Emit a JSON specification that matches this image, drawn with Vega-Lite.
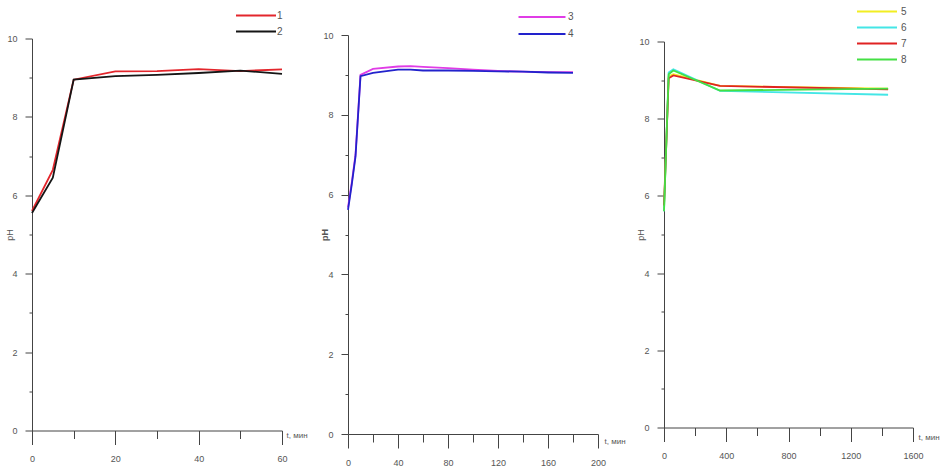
{
  "$schema": "https://vega.github.io/schema/vega-lite/v6.json",
  "background": "white",
  "padding": {"left": 5, "top": 5, "right": 0, "bottom": 5},
  "bounds": "flush",
  "spacing": 66,
  "center": true,
  "config": {
    "view": {"stroke": null},
    "font": "Liberation Sans",
    "axis": {"labelFont": "Liberation Sans", "labelFontSize": 9, "labelColor": "#555", "titleFont": "Liberation Sans", "titleFontSize": 9, "titleFontWeight": "normal", "titleColor": "#555", "domainColor": "#444", "tickColor": "#444", "grid": false, "labelOverlap": false, "labelFlush": false},
    "legend": {"orient": "none", "title": null, "symbolType": "M-4,0H4", "symbolStrokeWidth": 2, "symbolSize": 100, "labelFontSize": 10, "labelColor": "#555", "labelFont": "Liberation Sans", "rowPadding": 5, "labelOffset": 17}
  },
  "datasets": {
    "p1": [
      {"s": "1", "t": 0, "pH": 5.6}, {"s": "1", "t": 5, "pH": 6.65}, {"s": "1", "t": 10, "pH": 8.95}, {"s": "1", "t": 20, "pH": 9.16}, {"s": "1", "t": 30, "pH": 9.17}, {"s": "1", "t": 40, "pH": 9.22}, {"s": "1", "t": 50, "pH": 9.17}, {"s": "1", "t": 60, "pH": 9.21},
      {"s": "2", "t": 0, "pH": 5.55}, {"s": "2", "t": 5, "pH": 6.45}, {"s": "2", "t": 10, "pH": 8.95}, {"s": "2", "t": 20, "pH": 9.04}, {"s": "2", "t": 30, "pH": 9.07}, {"s": "2", "t": 40, "pH": 9.12}, {"s": "2", "t": 50, "pH": 9.18}, {"s": "2", "t": 60, "pH": 9.1}
    ],
    "p2": [
      {"s": "3", "t": 0, "pH": 5.68}, {"s": "3", "t": 3, "pH": 6.3}, {"s": "3", "t": 6, "pH": 7.0}, {"s": "3", "t": 10, "pH": 9.0}, {"s": "3", "t": 20, "pH": 9.15}, {"s": "3", "t": 40, "pH": 9.21}, {"s": "3", "t": 50, "pH": 9.22}, {"s": "3", "t": 60, "pH": 9.2}, {"s": "3", "t": 80, "pH": 9.17}, {"s": "3", "t": 100, "pH": 9.13}, {"s": "3", "t": 120, "pH": 9.1}, {"s": "3", "t": 140, "pH": 9.08}, {"s": "3", "t": 160, "pH": 9.07}, {"s": "3", "t": 180, "pH": 9.07},
      {"s": "4", "t": 0, "pH": 5.62}, {"s": "4", "t": 3, "pH": 6.25}, {"s": "4", "t": 6, "pH": 6.95}, {"s": "4", "t": 10, "pH": 8.97}, {"s": "4", "t": 20, "pH": 9.05}, {"s": "4", "t": 40, "pH": 9.13}, {"s": "4", "t": 50, "pH": 9.13}, {"s": "4", "t": 60, "pH": 9.11}, {"s": "4", "t": 80, "pH": 9.11}, {"s": "4", "t": 100, "pH": 9.1}, {"s": "4", "t": 120, "pH": 9.09}, {"s": "4", "t": 140, "pH": 9.08}, {"s": "4", "t": 160, "pH": 9.06}, {"s": "4", "t": 180, "pH": 9.05}
    ],
    "p3": [
      {"s": "5", "t": 0, "pH": 5.65}, {"s": "5", "t": 30, "pH": 9.1}, {"s": "5", "t": 60, "pH": 9.15}, {"s": "5", "t": 360, "pH": 8.85}, {"s": "5", "t": 1440, "pH": 8.78},
      {"s": "6", "t": 0, "pH": 5.6}, {"s": "6", "t": 30, "pH": 9.2}, {"s": "6", "t": 60, "pH": 9.28}, {"s": "6", "t": 360, "pH": 8.72}, {"s": "6", "t": 1440, "pH": 8.62},
      {"s": "7", "t": 0, "pH": 5.75}, {"s": "7", "t": 30, "pH": 9.05}, {"s": "7", "t": 60, "pH": 9.12}, {"s": "7", "t": 360, "pH": 8.85}, {"s": "7", "t": 1440, "pH": 8.76},
      {"s": "8", "t": 0, "pH": 5.6}, {"s": "8", "t": 30, "pH": 9.15}, {"s": "8", "t": 60, "pH": 9.25}, {"s": "8", "t": 360, "pH": 8.73}, {"s": "8", "t": 1440, "pH": 8.78}
    ]
  },
  "resolve": {"scale": {"color": "independent", "x": "independent", "y": "independent"}},
  "hconcat": [
    {
      "width": 250, "height": 392,
      "data": {"name": "p1"},
      "mark": {"type": "line", "strokeWidth": 1.8},
      "encoding": {
        "x": {"field": "t", "type": "quantitative", "scale": {"domain": [0, 60], "nice": false, "zero": false},
          "axis": {"values": [0, 10, 20, 30, 40, 50, 60], "format": "d", "labelExpr": "datum.value % 20 == 0 ? datum.label : ''", "tickSize": {"condition": {"test": "datum.value % 20 == 0", "value": 14}, "value": 8}, "labelPadding": 10, "title": "t, мин", "titleFontSize": 8, "titleX": 254, "titleY": 5, "titleAlign": "left", "titleBaseline": "middle", "titleAngle": 0}},
        "y": {"field": "pH", "type": "quantitative", "scale": {"domain": [0, 10], "nice": false},
          "axis": {"values": [0, 1, 2, 3, 4, 5, 6, 7, 8, 9, 10], "labelExpr": "datum.value % 2 == 0 ? datum.label : ''", "tickSize": {"condition": {"test": "datum.value % 2 == 0", "value": 7}, "value": 3}, "labelPadding": 8, "title": "pH", "titleX": -23, "titleBaseline": "middle", "titleAngle": -90}},
        "color": {"field": "s", "type": "nominal", "scale": {"domain": ["1", "2"], "range": ["#e3262c", "#151515"]}, "legend": {"legendX": 218, "legendY": -29, "labelOffset": 15}}
      }
    },
    {
      "width": 250, "height": 399,
      "data": {"name": "p2"},
      "mark": {"type": "line", "strokeWidth": 1.8},
      "encoding": {
        "x": {"field": "t", "type": "quantitative", "scale": {"domain": [0, 200], "nice": false, "zero": false},
          "axis": {"values": [0, 20, 40, 60, 80, 100, 120, 140, 160, 180, 200], "format": "d", "labelExpr": "datum.value % 40 == 0 ? datum.label : ''", "tickSize": {"condition": {"test": "datum.value % 40 == 0", "value": 14}, "value": 8}, "labelPadding": 10, "title": "t, мин", "titleFontSize": 8, "titleX": 256, "titleY": 7, "titleAlign": "left", "titleBaseline": "middle", "titleAngle": 0}},
        "y": {"field": "pH", "type": "quantitative", "scale": {"domain": [0, 10], "nice": false},
          "axis": {"values": [0, 1, 2, 3, 4, 5, 6, 7, 8, 9, 10], "labelExpr": "datum.value % 2 == 0 ? datum.label : ''", "tickSize": {"condition": {"test": "datum.value % 2 == 0", "value": 7}, "value": 3}, "labelPadding": 8, "title": "pH", "titleX": -24, "titleBaseline": "middle", "titleAngle": -90, "titleFontWeight": "bold"}},
        "color": {"field": "s", "type": "nominal", "scale": {"domain": ["3", "4"], "range": ["#e03ce6", "#2222cc"]}, "legend": {"legendX": 187, "legendY": -25, "symbolSize": 138, "labelOffset": 19}}
      }
    },
    {
      "width": 249, "height": 386,
      "data": {"name": "p3"},
      "mark": {"type": "line", "strokeWidth": 1.8},
      "encoding": {
        "x": {"field": "t", "type": "quantitative", "scale": {"domain": [0, 1600], "nice": false, "zero": false},
          "axis": {"values": [0, 200, 400, 600, 800, 1000, 1200, 1400, 1600], "format": "d", "labelExpr": "datum.value % 400 == 0 ? datum.label : ''", "tickSize": {"condition": {"test": "datum.value % 400 == 0", "value": 14}, "value": 8}, "labelPadding": 10, "title": "t, мин", "titleFontSize": 8, "titleX": 254, "titleY": 10, "titleAlign": "left", "titleBaseline": "middle", "titleAngle": 0}},
        "y": {"field": "pH", "type": "quantitative", "scale": {"domain": [0, 10], "nice": false},
          "axis": {"values": [0, 1, 2, 3, 4, 5, 6, 7, 8, 9, 10], "labelExpr": "datum.value % 2 == 0 ? datum.label : ''", "tickSize": {"condition": {"test": "datum.value % 2 == 0", "value": 7}, "value": 3}, "labelPadding": 8, "title": "pH", "titleX": -24, "titleBaseline": "middle", "titleAngle": -90}},
        "color": {"field": "s", "type": "nominal", "scale": {"domain": ["5", "6", "7", "8"], "range": ["#f2ee22", "#44e6e6", "#e02222", "#44e044"]}, "legend": {"legendX": 207, "legendY": -36, "labelOffset": 18}}
      }
    }
  ]
}
